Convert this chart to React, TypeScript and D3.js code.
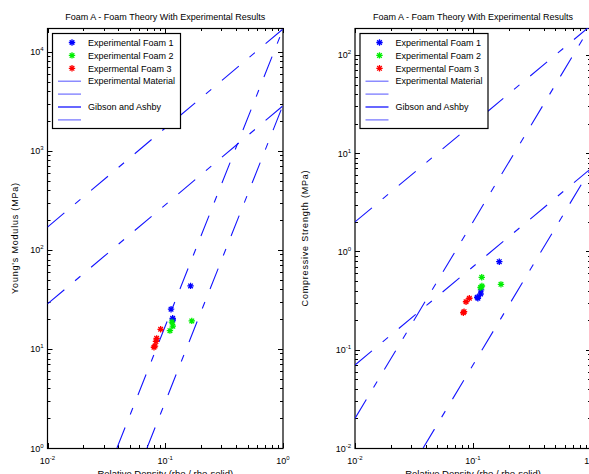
import { useEffect, useRef } from 'react';
import * as d3 from 'd3';

const titleText = "Foam A - Foam Theory With Experimental Results";
const xLabelText = "Relative Density (rho / rho-solid)";
const legendLabels = ["Experimental Foam 1", "Experimental Foam 2", "Expermental Foam 3", "Experimental Material", "", "Gibson and Ashby", ""];

// Young's modulus panel (rho/rho_s, MPa)
const modFoam1 = [[0.164, 43.3], [0.112, 25.2], [0.1156, 20.4], [0.116, 19.6]];
const modFoam2 = [[0.114, 18.7], [0.116, 17.0], [0.1096, 15.3], [0.168, 19.2]];
const modFoam3 = [[0.0914, 15.8], [0.0845, 12.8], [0.0834, 11.9], [0.0818, 10.7], [0.0802, 10.4]];
const modLines = [
  [[0.01, 28.5], [1, 2850]],
  [[0.01, 170], [1, 17000]],
  [[0.0389, 1], [1, 17000]],
  [[0.070, 1], [1, 2900]],
];

// Compressive strength panel
const strFoam1 = [[0.167, 0.787], [0.117, 0.406], [0.116, 0.369], [0.1086, 0.342], [0.110, 0.334]];
const strFoam2 = [[0.1186, 0.546], [0.1726, 0.463], [0.116, 0.43], [0.119, 0.445]];
const strFoam3 = [[0.0931, 0.334], [0.0873, 0.308], [0.084, 0.244], [0.0828, 0.238]];
const strLines = [
  [[0.01, 2.0], [1, 200]],
  [[0.01, 0.07], [1, 7]],
  [[0.01, 0.02], [1, 200]],
  [[0.0378, 0.01], [1, 7]],
];

const modYTicks = [0, 1, 2, 3, 4];
const strYTicks = [-2, -1, 0, 1, 2];
const xTicks = [-2, -1, 0];

const foamColors = ["#0000ff", "#00ee00", "#ff0000"];
const legendLineColors = ["#6f6fff", "#6f6fff", "#0000ff", "#6f6fff"];
const FONT = "'Liberation Sans', Arial, Helvetica, sans-serif";

const panels = [
  { left: 47.5, right: 283, yDomain: [1, 17400], yTicks: modYTicks, foams: [modFoam1, modFoam2, modFoam3], lines: modLines, yLabel: "Young's Modulus (MPa)", yLabelX: 18 },
  { left: 355, right: 591, yDomain: [0.01, 188], yTicks: strYTicks, foams: [strFoam1, strFoam2, strFoam3], lines: strLines, yLabel: "Compressive Strength (MPa)", yLabelX: 308 },
];

const TOP = 28, BOTTOM = 448;
const starPath = "M-3.2,0H3.2M0,-3.2V3.2M-2.3,-2.3L2.3,2.3M-2.3,2.3L2.3,-2.3";

function supLabel(sel, exp) {
  sel.append("tspan").text("10");
  sel.append("tspan").attr("dy", -4).attr("font-size", 6).text(String(exp));
}

export default function App() {
  const svgRef = useRef(null);

  useEffect(() => {
    const svg = d3.select(svgRef.current);
    svg.selectAll("*").remove();

    panels.forEach((p, pi) => {
      const x = d3.scaleLog().domain([0.01, 1]).range([p.left, p.right]);
      const y = d3.scaleLog().domain(p.yDomain).range([BOTTOM, TOP]);
      const g = svg.append("g");

      const clipId = `clip${pi}`;
      svg.append("clipPath").attr("id", clipId)
        .append("rect").attr("x", p.left).attr("y", TOP)
        .attr("width", p.right - p.left).attr("height", BOTTOM - TOP);

      // ticks (inward, all four sides)
      const [y0, y1] = p.yDomain;
      const yMinor = [];
      for (let e = Math.floor(Math.log10(y0)); e <= Math.ceil(Math.log10(y1)); e++) {
        for (let m = 1; m < 10; m++) {
          const v = m * Math.pow(10, e);
          if (v >= y0 && v <= y1) yMinor.push({ v, major: m === 1 });
        }
      }
      const xMinor = [];
      for (let e = -2; e <= 0; e++) {
        for (let m = 1; m < 10; m++) {
          const v = m * Math.pow(10, e);
          if (v <= 1) xMinor.push({ v, major: m === 1 });
        }
      }
      const tg = g.append("g").attr("stroke", "#000").attr("stroke-width", 1);
      yMinor.forEach(t => {
        const yy = Math.round(y(t.v)) + 0.5;
        const len = t.major ? 5 : 3;
        tg.append("line").attr("x1", p.left).attr("x2", p.left + len).attr("y1", yy).attr("y2", yy);
        tg.append("line").attr("x1", p.right).attr("x2", p.right - len).attr("y1", yy).attr("y2", yy);
      });
      xMinor.forEach(t => {
        const xx = Math.round(x(t.v)) + 0.5;
        const len = t.major ? 5 : 3;
        tg.append("line").attr("x1", xx).attr("x2", xx).attr("y1", BOTTOM).attr("y2", BOTTOM - len);
        tg.append("line").attr("x1", xx).attr("x2", xx).attr("y1", TOP).attr("y2", TOP + len);
      });

      // frame
      g.append("rect")
        .attr("x", p.left).attr("y", TOP + 0.5)
        .attr("width", p.right - p.left).attr("height", BOTTOM - TOP)
        .attr("fill", "none").attr("stroke", "#000").attr("stroke-width", 1.2);

      // tick labels
      p.yTicks.forEach(e => {
        const t = g.append("text")
          .attr("x", p.left - 4).attr("y", y(Math.pow(10, e)) + 3.5)
          .attr("text-anchor", "end").attr("font-family", FONT).attr("font-size", 9).attr("fill", "#000");
        supLabel(t, e);
      });
      xTicks.forEach(e => {
        const t = g.append("text")
          .attr("x", x(Math.pow(10, e))).attr("y", BOTTOM + 16)
          .attr("text-anchor", "middle").attr("font-family", FONT).attr("font-size", 9).attr("fill", "#000");
        supLabel(t, e);
      });

      // theory / material lines
      const line = d3.line().x(d => x(d[0])).y(d => y(d[1]));
      const lg = g.append("g").attr("clip-path", `url(#${clipId})`);
      p.lines.forEach(l => {
        lg.append("path")
          .attr("d", line(l))
          .attr("fill", "none")
          .attr("stroke", "#1414ff")
          .attr("stroke-width", 1.1)
          .attr("stroke-dasharray", "22 14 7 14");
      });

      // experimental points
      p.foams.forEach((pts, fi) => {
        lg.selectAll(null).data(pts).enter().append("path")
          .attr("transform", d => `translate(${x(d[0])},${y(d[1])})`)
          .attr("d", starPath)
          .attr("fill", "none")
          .attr("stroke", foamColors[fi])
          .attr("stroke-width", 1.3);
      });

      // title & axis labels
      const cx = (p.left + p.right) / 2;
      g.append("text").attr("x", cx).attr("y", 20)
        .attr("text-anchor", "middle").attr("font-family", FONT).attr("font-size", 9).attr("fill", "#000")
        .text(titleText);
      g.append("text").attr("x", cx).attr("y", 477)
        .attr("text-anchor", "middle").attr("font-family", FONT).attr("font-size", 9.5).attr("fill", "#000")
        .text(xLabelText);
      g.append("text")
        .attr("transform", `translate(${p.yLabelX},${(TOP + BOTTOM) / 2}) rotate(-90)`)
        .attr("text-anchor", "middle").attr("font-family", FONT).attr("font-size", 9)
        .attr("letter-spacing", 0.8).attr("fill", "#000")
        .text(p.yLabel);

      // legend
      const lx = p.left + 4.5;
      const leg = g.append("g").attr("transform", `translate(${lx},33)`);
      leg.append("rect").attr("x", 0.5).attr("y", 0.5).attr("width", 128).attr("height", 95)
        .attr("fill", "#fff").attr("stroke", "#000").attr("stroke-width", 1.2);
      legendLabels.forEach((lab, i) => {
        const ry = 9.5 + i * 12.9;
        if (i < 3) {
          leg.append("path").attr("transform", `translate(20,${ry})`).attr("d", starPath)
            .attr("fill", "none").attr("stroke", foamColors[i]).attr("stroke-width", 1.3);
        } else {
          leg.append("line").attr("x1", 6).attr("x2", 29).attr("y1", ry).attr("y2", ry)
            .attr("stroke", legendLineColors[i - 3]).attr("stroke-width", 1.2);
        }
        if (lab) {
          leg.append("text").attr("x", 36).attr("y", ry + 3.2)
            .attr("font-family", FONT).attr("font-size", 9).attr("fill", "#000").text(lab);
        }
      });
    });
  }, []);

  return (
    <div style={{ position: "absolute", left: 0, top: 0 }}>
      <svg ref={svgRef} width={589} height={474} style={{ display: "block", background: "#fff" }}></svg>
    </div>
  );
}
